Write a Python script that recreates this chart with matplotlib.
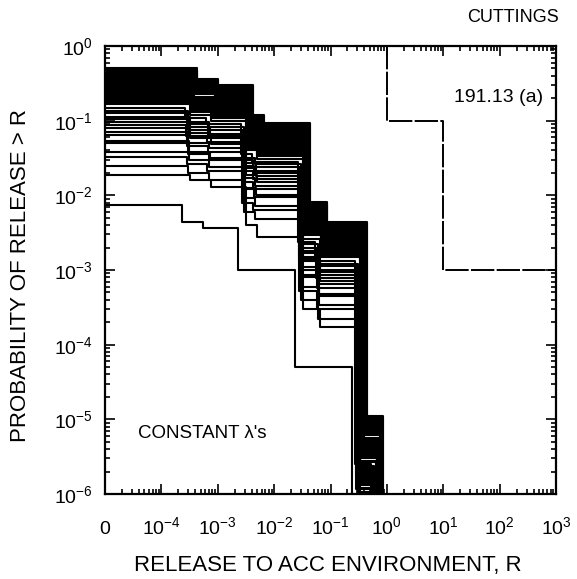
import numpy as np
import matplotlib
matplotlib.use("Agg")
from matplotlib import pyplot as plt
from matplotlib.ticker import FixedLocator, LogLocator, NullFormatter

plt.rcParams["font.family"] = ["Liberation Sans", "DejaVu Sans"]
plt.rcParams["mathtext.fontset"] = "custom"
plt.rcParams["mathtext.rm"] = "Liberation Sans"
plt.rcParams["mathtext.it"] = "Liberation Sans:italic"

# release where the top curve steps down (each curve scales these by its shift)
step_release = [4.3e-4, 1.0e-3, 4.2e-3, 6.5e-3, 4.3e-2, 8.7e-2, 0.44, 0.85]

# per-curve shift of the step releases
shift = [1.0, 1.0, 0.98, 0.97, 0.96, 0.95, 0.94, 0.93, 0.92, 0.91, 0.90, 0.89,
         0.88, 0.87, 0.86, 0.85, 0.84, 0.83, 0.82, 0.81, 0.80, 0.79, 0.78, 0.77,
         0.76,
         0.62, 0.70, 0.66, 0.74, 0.68, 0.72, 0.64, 0.75, 0.70, 0.66, 0.73, 0.69,
         0.71, 0.65, 0.70, 0.75, 0.55]

# probability levels of each curve between the steps
level_0 = [0.50, 0.48, 0.46, 0.44, 0.42, 0.40, 0.385, 0.37, 0.355, 0.34, 0.325,
           0.31, 0.295, 0.28, 0.27, 0.26, 0.25, 0.24, 0.23, 0.22, 0.21, 0.20,
           0.19, 0.18, 0.165,
           0.148, 0.135, 0.127, 0.112, 0.105, 0.096, 0.087, 0.080, 0.071, 0.064,
           0.053, 0.050, 0.038, 0.033, 0.025, 0.019, 0.0075]
level_1 = [0.36, 0.35, 0.33, 0.32, 0.30, 0.29, 0.28, 0.27, 0.26, 0.245, 0.235,
           0.225, 0.21, 0.20, 0.195, 0.187, 0.18, 0.173, 0.166, 0.158, 0.151,
           0.144, 0.137, 0.130, 0.119,
           0.107, 0.097, 0.091, 0.081, 0.076, 0.069, 0.063, 0.058, 0.051, 0.046,
           0.038, 0.036, 0.030, 0.026, 0.020, 0.016, 0.0044]
level_2 = [0.30, 0.29, 0.28, 0.265, 0.25, 0.24, 0.23, 0.22, 0.21, 0.205, 0.195,
           0.185, 0.177, 0.168, 0.162, 0.156, 0.15, 0.144, 0.138, 0.132, 0.126,
           0.120, 0.114, 0.108, 0.099,
           0.089, 0.081, 0.076, 0.067, 0.063, 0.058, 0.052, 0.048, 0.043, 0.038,
           0.032, 0.030, 0.024, 0.021, 0.016, 0.013, 0.0036]
level_3 = [0.12, 0.115, 0.11, 0.105, 0.10, 0.096, 0.092, 0.089, 0.085, 0.082,
           0.078, 0.074, 0.071, 0.067, 0.065, 0.062, 0.060, 0.058, 0.055, 0.053,
           0.050, 0.048, 0.046, 0.043, 0.040,
           0.036, 0.032, 0.030, 0.027, 0.025, 0.023, 0.021, 0.019, 0.017, 0.015,
           0.0127, 0.012, 0.0091, 0.0079, 0.006, 0.0040, 0.0010]
level_4 = [0.093, 0.090, 0.087, 0.084, 0.080, 0.076, 0.073, 0.070, 0.067, 0.065,
           0.062, 0.059, 0.056, 0.053, 0.051, 0.049, 0.048, 0.046, 0.044, 0.042,
           0.040, 0.038, 0.036, 0.034, 0.031,
           0.028, 0.026, 0.024, 0.021, 0.020, 0.018, 0.0165, 0.015, 0.0135,
           0.012, 0.010, 0.0095, 0.0072, 0.0063, 0.0048, 0.0028, 0.0010]
level_5 = [0.0082, 0.0078, 0.0074, 0.0070, 0.0067, 0.0064, 0.0062, 0.0059,
           0.0057, 0.0054, 0.0052, 0.0050, 0.0047, 0.0045, 0.0043, 0.0042,
           0.0040, 0.0038, 0.0037, 0.0035, 0.0034, 0.0032, 0.0030, 0.0029,
           0.0026,
           0.0024, 0.0022, 0.0020, 0.0018, 0.0017, 0.0015, 0.0014, 0.0013,
           0.0011, 0.0010, 0.00085, 0.0008, 0.0006, 0.00053, 0.0004, 0.0003,
           5e-5]
level_6 = [0.0044, 0.0042, 0.0041, 0.0040, 0.0038, 0.0036, 0.0035, 0.0033,
           0.0032, 0.0031, 0.0029, 0.0028, 0.0027, 0.0025, 0.0024, 0.0023,
           0.0022, 0.0022, 0.0021, 0.0020, 0.0019, 0.0018, 0.0017, 0.0016,
           0.0015,
           0.0013, 0.0012, 0.00114, 0.0010, 0.00095, 0.00086, 0.00078, 0.00072,
           0.00064, 0.00058, 0.00048, 0.00045, 0.00034, 0.0003, 0.00022,
           0.00017, 5e-5]
level_7 = [1.10e-5, 1.04e-5, 9.8e-6, 9.2e-6, 8.7e-6, 8.2e-6, 7.7e-6, 7.3e-6,
           6.9e-6, 6.5e-6, 6.1e-6, 5.7e-6, 5.4e-6, 5.1e-6, 4.8e-6, 4.5e-6,
           4.3e-6, 4.0e-6, 3.8e-6, 3.6e-6, 3.4e-6, 3.2e-6, 3.0e-6, 2.8e-6,
           2.65e-6,
           2.5e-6, 2.35e-6, 2.2e-6, 2.1e-6, 2.0e-6, 1.85e-6, 1.75e-6, 1.65e-6,
           1.55e-6, 1.45e-6, 1.37e-6, 1.3e-6, 1.22e-6, 1.15e-6, 1.08e-6,
           1.02e-6, 1e-7]

# EPA 40 CFR 191.13 (a) release limits
limit_release = [1.0, 10.0]
limit_prob = [0.1, 0.001]

x_ticks = [1e-5, 1e-4, 1e-3, 1e-2, 1e-1, 1e0, 1e1, 1e2, 1e3]
x_tick_labels = ["0", r"$10^{-4}$", r"$10^{-3}$", r"$10^{-2}$", r"$10^{-1}$",
                 r"$10^{0}$", r"$10^{1}$", r"$10^{2}$", r"$10^{3}$"]
y_ticks = [1e-6, 1e-5, 1e-4, 1e-3, 1e-2, 1e-1, 1e0]
y_tick_labels = [r"$10^{-6}$", r"$10^{-5}$", r"$10^{-4}$", r"$10^{-3}$",
                 r"$10^{-2}$", r"$10^{-1}$", r"$10^{0}$"]

W, H = 577, 579
fig = plt.figure(figsize=(W / 100, H / 100), dpi=100)
ax = fig.add_axes([105 / W, 1 - 494 / H, (556 - 105) / W, (494 - 46) / H])

levels = np.array([level_0, level_1, level_2, level_3, level_4, level_5,
                   level_6, level_7]).T
for s, lev in zip(shift, levels):
    xs = [x_ticks[0]] + [r * s for r in step_release]
    ys = list(lev) + [1e-9]
    ax.step(xs, ys, where="post", color="black", lw=1.5)

# regulatory limit line
lim_x = [limit_release[0]] + limit_release + [x_ticks[-1]]
lim_y = [1.0] + limit_prob + [limit_prob[-1]]
ax.step(lim_x, lim_y, where="post", color="black", lw=1.4,
        linestyle=(0, (12, 1.2)))

ax.set_xscale("log")
ax.set_yscale("log")
ax.set_xlim(1e-5, 1e3)
ax.set_ylim(1e-6, 1)

ax.xaxis.set_major_locator(FixedLocator(x_ticks))
ax.set_xticklabels(x_tick_labels)
ax.yaxis.set_major_locator(FixedLocator(y_ticks))
ax.set_yticklabels(y_tick_labels)
ax.xaxis.set_minor_locator(LogLocator(base=10, subs=np.arange(2, 10), numticks=20))
ax.yaxis.set_minor_locator(LogLocator(base=10, subs=np.arange(2, 10), numticks=20))
ax.xaxis.set_minor_formatter(NullFormatter())
ax.yaxis.set_minor_formatter(NullFormatter())

ax.tick_params(which="both", direction="in", top=True, right=True,
               width=1.2, labelsize=14)
ax.tick_params(which="major", length=7)
ax.tick_params(which="minor", length=3.5)
ax.tick_params(axis="x", which="major", pad=29)
ax.tick_params(axis="y", which="major", pad=9)
for t in ax.xaxis.get_major_ticks():
    t.label1.set_verticalalignment("baseline")

for sp in ax.spines.values():
    sp.set_linewidth(1.6)

fig.text(559 / W, 1 - 17 / H, "CUTTINGS", ha="right", va="center", fontsize=13)
fig.text(543 / W, 1 - 97 / H, "191.13 (a)", ha="right", va="center",
         fontsize=14)
fig.text(138 / W, 1 - 433 / H, "CONSTANT \u03bb's", ha="left", va="center",
         fontsize=13.5)
fig.text(21 / W, 1 - 275 / H, "PROBABILITY OF RELEASE > R", rotation=90,
         ha="center", va="center", fontsize=16)
fig.text(328 / W, 1 - 566 / H, "RELEASE TO ACC ENVIRONMENT, R", ha="center",
         va="center", fontsize=16)

fig.savefig("out.png", dpi=100, facecolor="white")
